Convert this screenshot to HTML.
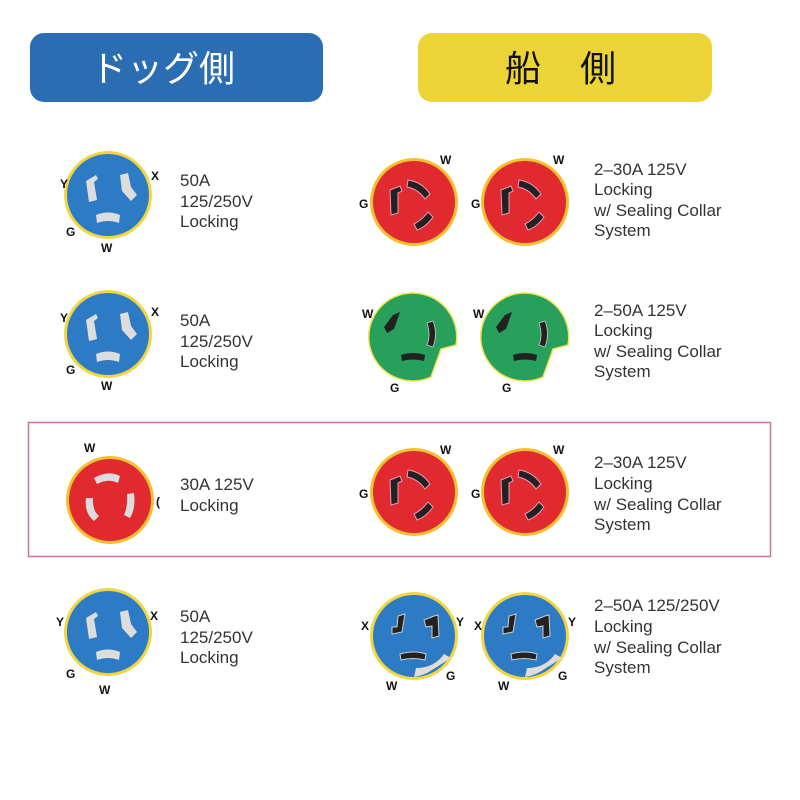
<!DOCTYPE html>
<html><head><meta charset="utf-8"><style>
body{margin:0;background:#fff;width:800px;height:800px;overflow:hidden}
svg{display:block}
.t{font-family:"Liberation Sans","Noto Sans CJK JP",sans-serif;font-size:17px;fill:#333}
.l{font-family:"Liberation Sans",sans-serif;font-size:12px;font-weight:bold;fill:#111}
</style></head><body>
<svg width="800" height="800" viewBox="0 0 800 800" xmlns="http://www.w3.org/2000/svg">
<defs>
<g id="bl">
 <circle r="44" fill="#f2d640"/><circle r="41" fill="#2d7bc4"/>
 <path d="M-22,-14 l10,-6 l2,4 l-4,3 l3,18 l-8,2z" fill="#ddd"/>
 <path d="M12,-20 l8,-2 l3,14 l6,8 l-6,6 l-9,-10z" fill="#ddd"/>
 <path d="M-12,20 q12,-5 24,0 l-1,8 q-11,-4 -22,0z" fill="#ddd"/>
</g>
<g id="rl">
 <circle r="44" fill="#f2c030"/><circle r="41" fill="#e02a30"/>
 <path d="M-16,-22 q14,-8 26,-2 l-2,7 q-10,-5 -21,1z" fill="#ddd"/>
 <path d="M-24,-2 l7,0 q-1,12 6,18 l-5,5 q-10,-8 -8,-23z" fill="#ddd"/>
 <path d="M17,-6 l7,-1 q2,15 -4,25 l-6,-3 q4,-9 3,-21z" fill="#ddd"/>
</g>
<g id="rr">
 <circle r="44" fill="#f2c030"/><circle r="41" fill="#e02a30"/>
 <path d="M-6,-22 q14,2 22,14 l-5,5 q-7,-10 -18,-12z" fill="#222" stroke="#e9b" stroke-width="1"/>
 <path d="M-24,-12 l10,-4 l2,5 l-4,2 l0,20 l-7,2z" fill="#222" stroke="#e9b" stroke-width="1"/>
 <path d="M14,10 l5,5 q-7,10 -16,13 l-3,-6 q8,-4 14,-12z" fill="#222" stroke="#e9b" stroke-width="1"/>
</g>
<g id="gr">
 <path d="M43,8 L28,12 L18,40 A44,44 0 1 1 43,8 Z" fill="#26a05a" stroke="#f2e24a" stroke-width="1.5"/>
 <path d="M-20,-22 l7,-3 l-6,17 l-7,4 l-3,-6z" fill="#222"/>
 <path d="M14,-14 l6,-2 q5,12 0,26 l-6,-2 q4,-10 0,-22z" fill="#222" stroke="#ccc" stroke-width="0.8"/>
 <path d="M-12,18 q12,-4 24,0 l-1,6 q-11,-3 -22,0z" fill="#222"/>
</g>
<g id="bb">
 <circle r="44" fill="#f2d640"/><circle r="41" fill="#2d7bc4"/>
 <path d="M18,34 A41,41 0 0 1 0,41 L2,32 A32,32 0 0 0 30,18 L37,22z" fill="#ddd"/>
 <path d="M-16,-20 l7,-2 l-3,18 l-10,2 l0,-7 l5,0z" fill="#222" stroke="#ccc" stroke-width="1"/>
 <path d="M10,-16 l10,-4 l4,-1 l1,21 l-7,2 l0,-12 l-6,1z" fill="#222" stroke="#ccc" stroke-width="1"/>
 <path d="M-14,18 q14,-4 26,0 l-1,6 q-12,-3 -24,0z" fill="#222" stroke="#ccc" stroke-width="1"/>
</g>
</defs>
<rect x="30" y="33" width="293" height="69" rx="14" fill="#2a6db2"/>
<text x="163" y="81" text-anchor="middle" font-family="'Noto Sans CJK JP',sans-serif" font-size="36" fill="#fff">ドッグ側</text>
<rect x="418" y="33" width="294" height="69" rx="14" fill="#ecd436"/>
<text x="505" y="81" font-family="'Noto Sans CJK JP',sans-serif" font-size="36" fill="#111">船</text>
<text x="580" y="81" font-family="'Noto Sans CJK JP',sans-serif" font-size="36" fill="#111">側</text>

<use href="#bl" x="108" y="195"/>
<text class="l" x="60" y="188">Y</text><text class="l" x="151" y="180">X</text><text class="l" x="66" y="236">G</text><text class="l" x="101" y="252">W</text>
<text class="t" x="180" y="186">50A</text><text class="t" x="180" y="207">125/250V</text><text class="t" x="180" y="227">Locking</text>
<use href="#rr" x="414" y="202"/><use href="#rr" x="525" y="202"/>
<text class="l" x="440" y="164">W</text><text class="l" x="553" y="164">W</text><text class="l" x="359" y="208">G</text><text class="l" x="471" y="208">G</text>
<text class="t" x="594" y="175">2–30A 125V</text><text class="t" x="594" y="195">Locking</text><text class="t" x="594" y="216">w/ Sealing Collar</text><text class="t" x="594" y="236">System</text>

<use href="#bl" x="108" y="334"/>
<text class="l" x="60" y="322">Y</text><text class="l" x="151" y="316">X</text><text class="l" x="66" y="374">G</text><text class="l" x="101" y="390">W</text>
<text class="t" x="180" y="326">50A</text><text class="t" x="180" y="347">125/250V</text><text class="t" x="180" y="367">Locking</text>
<use href="#gr" x="413" y="337"/><use href="#gr" x="525" y="337"/>
<text class="l" x="362" y="318">W</text><text class="l" x="473" y="318">W</text><text class="l" x="390" y="392">G</text><text class="l" x="502" y="392">G</text>
<text class="t" x="594" y="316">2–50A 125V</text><text class="t" x="594" y="336">Locking</text><text class="t" x="594" y="357">w/ Sealing Collar</text><text class="t" x="594" y="377">System</text>

<rect x="28.5" y="422.5" width="742" height="134" fill="none" stroke="#d06fa0" stroke-width="1.5"/>
<use href="#rl" x="110" y="500"/>
<text class="l" x="84" y="452">W</text><text class="l" x="156" y="506">(</text>
<text class="t" x="180" y="490">30A 125V</text><text class="t" x="180" y="511">Locking</text>
<use href="#rr" x="414" y="492"/><use href="#rr" x="525" y="492"/>
<text class="l" x="440" y="454">W</text><text class="l" x="553" y="454">W</text><text class="l" x="359" y="498">G</text><text class="l" x="471" y="498">G</text>
<text class="t" x="594" y="468">2–30A 125V</text><text class="t" x="594" y="489">Locking</text><text class="t" x="594" y="510">w/ Sealing Collar</text><text class="t" x="594" y="530">System</text>

<use href="#bl" x="108" y="632"/>
<text class="l" x="56" y="626">Y</text><text class="l" x="150" y="620">X</text><text class="l" x="66" y="678">G</text><text class="l" x="99" y="694">W</text>
<text class="t" x="180" y="622">50A</text><text class="t" x="180" y="643">125/250V</text><text class="t" x="180" y="663">Locking</text>
<use href="#bb" x="414" y="636"/><use href="#bb" x="525" y="636"/>
<text class="l" x="361" y="630">X</text><text class="l" x="474" y="630">X</text><text class="l" x="456" y="626">Y</text><text class="l" x="568" y="626">Y</text>
<text class="l" x="386" y="690">W</text><text class="l" x="498" y="690">W</text><text class="l" x="446" y="680">G</text><text class="l" x="558" y="680">G</text>
<text class="t" x="594" y="611">2–50A 125/250V</text><text class="t" x="594" y="632">Locking</text><text class="t" x="594" y="653">w/ Sealing Collar</text><text class="t" x="594" y="673">System</text>
</svg>
</body></html>
